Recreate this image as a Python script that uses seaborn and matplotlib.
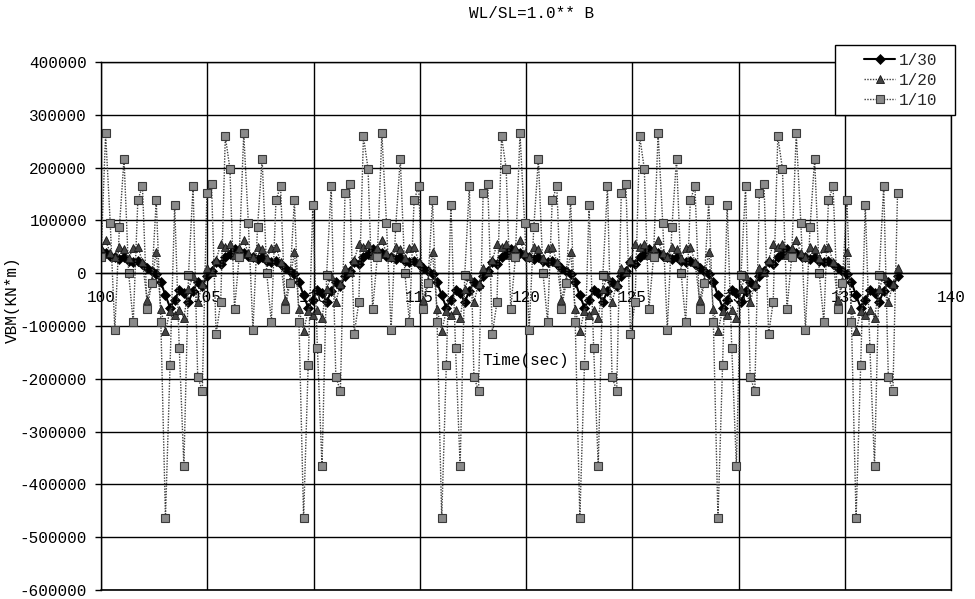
import numpy as np
import pandas as pd
import matplotlib
matplotlib.use("Agg")
import matplotlib.pyplot as plt
import seaborn as sns
from matplotlib.patches import Rectangle
from matplotlib.lines import Line2D
from matplotlib.ticker import FuncFormatter

# ---- record: vertical bending moment, sampled every 6.5/30 s from t = 100 s ----
t_start = 100.0
dt = 6.5 / 30
n_samples = 174
time_s = t_start + dt * np.arange(n_samples)

# VBM in units of 1000 kN*m, one line per wave cycle (30 samples each)
vbm_1_30 = [
    42, 38, 33, 30, 26, 30, 24, 22, 24, 18, 10, 5, -2, -17, -42, -65, -51, -32, -38, -55, -33, -17, -25, -6, 5, 21, 17, 30, 37, 46,
    42, 38, 33, 30, 26, 30, 24, 22, 24, 18, 10, 5, -2, -17, -42, -65, -51, -32, -38, -55, -33, -17, -25, -6, 5, 21, 17, 30, 37, 46,
    42, 38, 33, 30, 26, 30, 24, 22, 24, 18, 10, 5, -2, -17, -42, -65, -51, -32, -38, -55, -33, -17, -25, -6, 5, 21, 17, 30, 37, 46,
    42, 38, 33, 30, 26, 30, 24, 22, 24, 18, 10, 5, -2, -17, -42, -65, -51, -32, -38, -55, -33, -17, -25, -6, 5, 21, 17, 30, 37, 46,
    42, 38, 33, 30, 26, 30, 24, 22, 24, 18, 10, 5, -2, -17, -42, -65, -51, -32, -38, -55, -33, -17, -25, -6, 5, 21, 17, 30, 37, 46,
    42, 38, 33, 30, 26, 30, 24, 22, 24, 18, 10, 5, -2, -17, -42, -65, -51, -32, -38, -55, -33, -17, -25, -6,
]
vbm_1_20 = [
    48, 63, 38, 30, 50, 46, 28, 48, 50, 22, -50, -15, 40, -68, -109, -71, -80, -70, -84, -30, -5, -55, -20, 10, 2, 25, 55, 50, 56, 35,
    48, 63, 38, 30, 50, 46, 28, 48, 50, 22, -50, -15, 40, -68, -109, -71, -80, -70, -84, -30, -5, -55, -20, 10, 2, 25, 55, 50, 56, 35,
    48, 63, 38, 30, 50, 46, 28, 48, 50, 22, -50, -15, 40, -68, -109, -71, -80, -70, -84, -30, -5, -55, -20, 10, 2, 25, 55, 50, 56, 35,
    48, 63, 38, 30, 50, 46, 28, 48, 50, 22, -50, -15, 40, -68, -109, -71, -80, -70, -84, -30, -5, -55, -20, 10, 2, 25, 55, 50, 56, 35,
    48, 63, 38, 30, 50, 46, 28, 48, 50, 22, -50, -15, 40, -68, -109, -71, -80, -70, -84, -30, -5, -55, -20, 10, 2, 25, 55, 50, 56, 35,
    48, 63, 38, 30, 50, 46, 28, 48, 50, 22, -50, -15, 40, -68, -109, -71, -80, -70, -84, -30, -5, -55, -20, 10,
]
vbm_1_10 = [
    30, 265, 96, -107, 87, 217, 0, -93, 138, 165, -68, -19, 138, -93, -464, -174, 129, -141, -365, -4, 165, -196, -223, 151, 169, -115, -55, 259, 198, -68,
    30, 265, 96, -107, 87, 217, 0, -93, 138, 165, -68, -19, 138, -93, -464, -174, 129, -141, -365, -4, 165, -196, -223, 151, 169, -115, -55, 259, 198, -68,
    30, 265, 96, -107, 87, 217, 0, -93, 138, 165, -68, -19, 138, -93, -464, -174, 129, -141, -365, -4, 165, -196, -223, 151, 169, -115, -55, 259, 198, -68,
    30, 265, 96, -107, 87, 217, 0, -93, 138, 165, -68, -19, 138, -93, -464, -174, 129, -141, -365, -4, 165, -196, -223, 151, 169, -115, -55, 259, 198, -68,
    30, 265, 96, -107, 87, 217, 0, -93, 138, 165, -68, -19, 138, -93, -464, -174, 129, -141, -365, -4, 165, -196, -223, 151, 169, -115, -55, 259, 198, -68,
    30, 265, 96, -107, 87, 217, 0, -93, 138, 165, -68, -19, 138, -93, -464, -174, 129, -141, -365, -4, 165, -196, -223, 151,
]

series_labels = ["1/30", "1/20", "1/10"]
x_ticks = list(range(100, 141, 5))
y_ticks = list(range(-600000, 400001, 100000))

df = pd.DataFrame({
    "time": np.concatenate([time_s] * 3),
    "vbm": np.concatenate([vbm_1_30, vbm_1_20, vbm_1_10]) * 1000.0,
    "steepness": np.repeat(series_labels, n_samples),
})

# ---- style ----
sns.set_theme(style="white")
plt.rcParams["font.family"] = ["Liberation Mono", "DejaVu Sans Mono"]
plt.rcParams["axes.unicode_minus"] = False
FS = 11.5

W, H = 975, 599
fig = plt.figure(figsize=(W / 100, H / 100), dpi=100)
ax = fig.add_axes([101 / W, 1 - 590 / H, 850 / W, 528 / H])

styles = {
    "1/30": dict(color="black", linestyle="-", linewidth=1.5, marker="D", markersize=4.8,
                 markerfacecolor="black", markeredgecolor="black", markeredgewidth=0.5),
    "1/20": dict(color="#404040", linestyle=(0, (1, 1)), linewidth=1.0, marker="^", markersize=5.2,
                 markerfacecolor="#444444", markeredgecolor="#141414", markeredgewidth=0.6),
    "1/10": dict(color="#404040", linestyle=(0, (1, 1)), linewidth=1.0, marker="s", markersize=6.0,
                 markerfacecolor="#8a8a8a", markeredgecolor="#3a3a3a", markeredgewidth=0.8),
}

for lab in series_labels:
    sub = df[df["steepness"] == lab]
    sns.lineplot(data=sub, x="time", y="vbm", ax=ax, sort=False, estimator=None,
                 legend=False, **styles[lab])

ax.set_xlim(100, 140)
ax.set_ylim(-600000, 400000)
ax.set_xticks(x_ticks)
ax.set_yticks(y_ticks)
ax.yaxis.set_major_formatter(FuncFormatter(lambda v, p: f"{int(round(v))}"))
ax.xaxis.set_major_formatter(FuncFormatter(lambda v, p: f"{int(round(v))}"))
ax.grid(True, color="black", linewidth=1.0)
ax.set_axisbelow(True)

for side in ["left", "top", "right", "bottom"]:
    ax.spines[side].set_color("black")
    ax.spines[side].set_linewidth(1.0)
    ax.spines[side].set_visible(True)
ax.spines["bottom"].set_position(("data", 0))
ax.axhline(-600000, color="black", linewidth=1.2, clip_on=False)

ax.tick_params(axis="y", direction="out", length=4, width=1, pad=6,
               labelsize=FS, colors="black", left=True)
ax.tick_params(axis="x", length=0, pad=12, labelsize=FS, colors="black", bottom=True)
ax.set_xlabel("")
ax.set_ylabel("")

ax.text(0.5, (590 - 360) / 528, "Time(sec)", transform=ax.transAxes,
        ha="center", va="center", fontsize=FS, color="black", zorder=0.5)
fig.text(532 / W, 1 - 13 / H, "WL/SL=1.0** B", ha="center", va="center",
         fontsize=FS, color="black")
fig.text(12 / W, 1 - 300 / H, "VBM(KN*m)", rotation=90, ha="center", va="center",
         fontsize=FS, color="black")

# legend box
box = Rectangle((835 / W, 1 - 115 / H), 120 / W, 70 / H, transform=fig.transFigure,
                facecolor="white", edgecolor="black", linewidth=1.0, zorder=3)
fig.patches.append(box)
handles = [Line2D([], [], **styles[lab]) for lab in series_labels]
fig.legend(handles, series_labels, loc="upper left",
           bbox_to_anchor=(856 / W, 1 - 45 / H), bbox_transform=fig.transFigure,
           frameon=False, borderpad=0, handlelength=1.95, handletextpad=0.2,
           labelspacing=0.3, fontsize=FS)

fig.savefig("out.png", dpi=100, facecolor="white")
